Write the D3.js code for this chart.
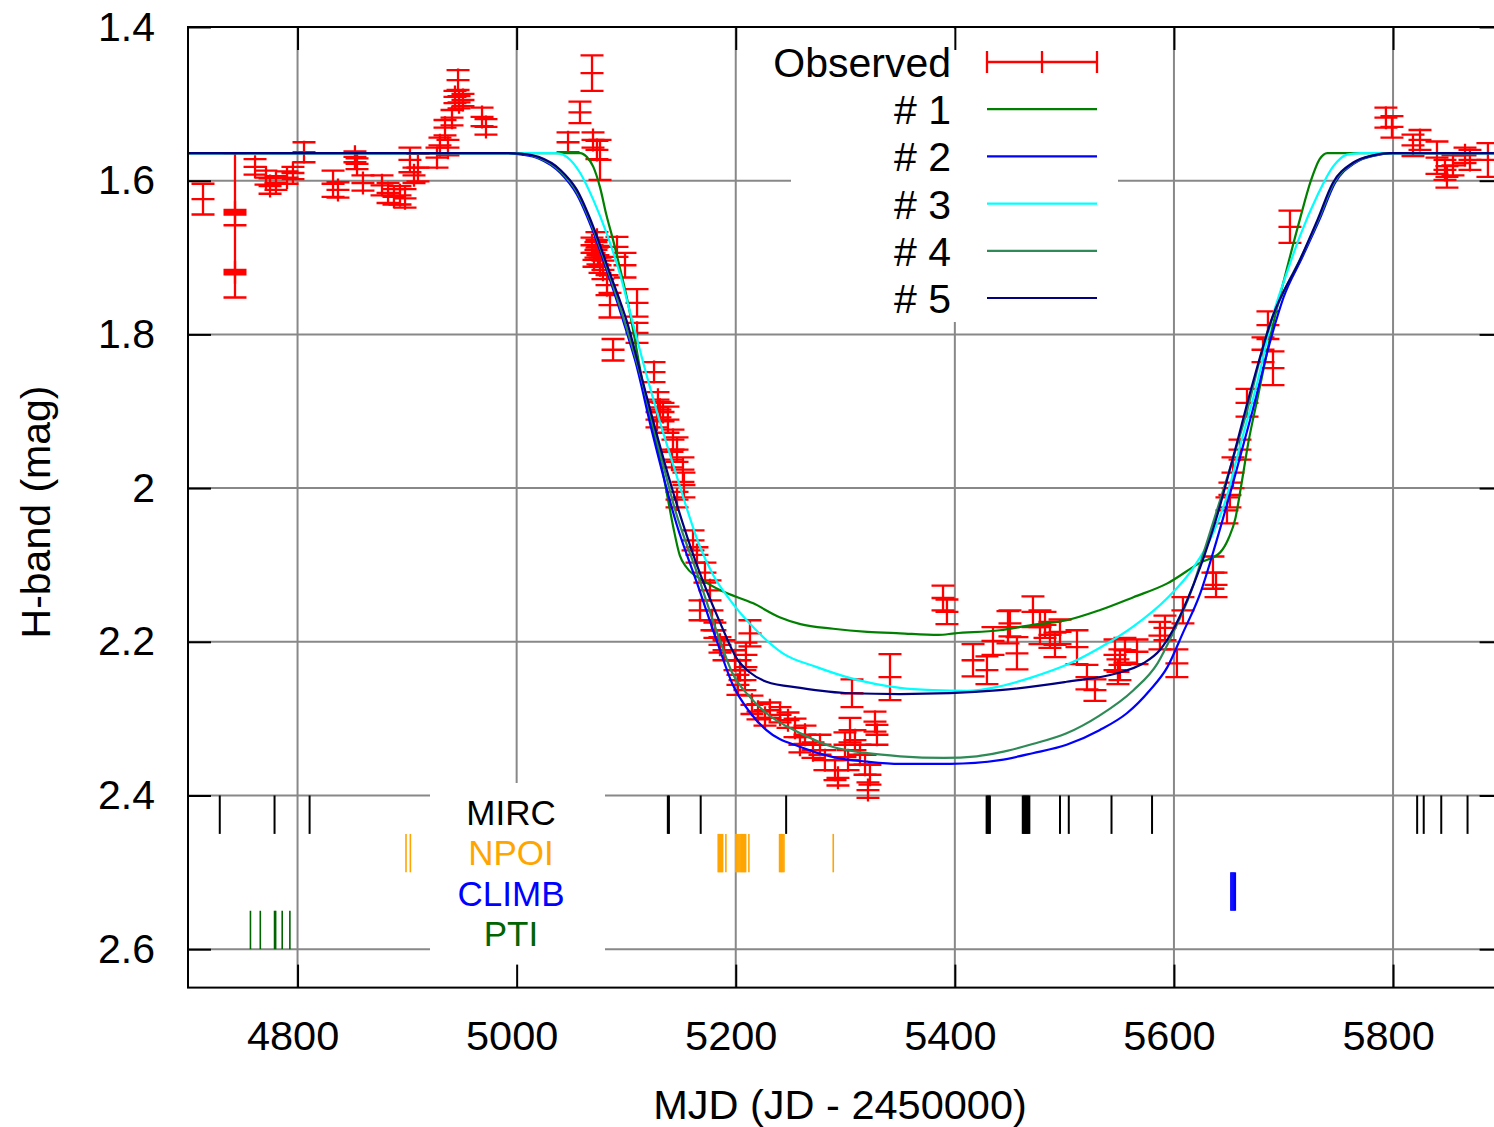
<!DOCTYPE html>
<html><head><meta charset="utf-8">
<script src="https://cdn.jsdelivr.net/npm/d3@7"></script>
<style>
body{margin:0;background:#fff}
svg text{font-family:"Liberation Sans",Arial,Helvetica,sans-serif}
</style>
</head><body>
<svg id="chart" width="1494" height="1127"></svg>
<script>
// ---------- data ----------
const xTicks = [4800, 5000, 5200, 5400, 5600, 5800];
const yTicks = [1.4, 1.6, 1.8, 2.0, 2.2, 2.4, 2.6];

const obsMJD = [4713.7,4742.9,4742.9,4742.9,4761.2,4771.2,4774.9,4780.3,4790.4,4795.8,4805.9,4832.4,4836.9,4852.4,4854.3,4859.7,4877.1,4882.6,4888.0,4893.5,4898.1,4902.6,4909.9,4906.3,4927.3,4934.6,4930.0,4937.3,4941.0,4943.7,4947.4,4951.0,4946.5,4968.4,4972.0,
5068.8,5057.8,5046.9,5069.7,5073.3,5076.1,5068.8,5072.4,5070.6,5074.2,5076.1,5078.8,5073.3,5091.6,5098.9,5082.5,5085.2,5109.9,5088.0,5109.9,5125.4,5129.0,5130.8,5128.1,5133.6,5138.1,5142.7,5146.4,5141.8,5151.8,5152.7,5146.4,5161.0,5164.6,5171.9,5176.5,5167.4,5178.3,5181.0,5185.6,5213.0,5209.3,5189.3,5199.3,5203.9,5208.4,5202.0,5214.8,5220.3,5226.7,5231.2,5240.4,5247.7,5254.1,5263.2,5258.6,5270.5,5276.9,5281.4,5290.6,5293.3,5299.7,5304.3,5308.8,5313.4,5318.0,5322.5,5302.5,5306.1,5327.1,5328.9,5340.8,5320.7,
5389.2,5392.8,5416.6,5429.3,5434.8,5448.5,5456.7,5471.3,5477.7,5450.3,5482.3,5486.8,5491.4,5496.0,5511.5,5520.6,5527.9,5546.2,5550.7,5555.3,5548.9,5566.3,5587.2,5608.2,5602.7,5591.8,5635.6,5638.4,5648.4,5653.9,5660.3,5666.7,5681.3,5690.4,5685.8,5705.9,5651.1,
5799.0,5793.5,5818.2,5824.6,5840.1,5849.2,5854.7,5847.4,5870.2,5865.7,5886.6];
const obsMag = [1.624,1.658,1.641,1.719,1.582,1.596,1.607,1.603,1.596,1.590,1.563,1.604,1.612,1.569,1.578,1.603,1.606,1.616,1.621,1.619,1.623,1.573,1.583,1.593,1.570,1.531,1.554,1.557,1.518,1.491,1.498,1.495,1.469,1.517,1.530,
1.460,1.511,1.550,1.547,1.560,1.573,1.684,1.690,1.703,1.697,1.710,1.716,1.677,1.686,1.710,1.736,1.762,1.759,1.820,1.798,1.849,1.885,1.898,1.911,1.901,1.911,1.937,1.950,1.963,1.976,1.996,2.015,2.068,2.087,2.110,2.133,2.159,2.172,2.185,2.204,2.189,2.217,2.211,2.224,2.237,2.250,2.256,2.282,2.291,2.299,2.289,2.295,2.302,2.312,2.321,2.334,2.341,2.334,2.354,2.367,2.377,2.334,2.315,2.328,2.347,2.360,2.373,2.354,2.267,2.304,2.321,2.246,2.393,
2.143,2.161,2.224,2.237,2.199,2.181,2.215,2.161,2.181,2.176,2.178,2.191,2.204,2.187,2.207,2.246,2.263,2.217,2.230,2.211,2.239,2.213,2.192,2.159,2.228,2.182,2.110,2.126,2.029,1.980,1.950,1.889,1.820,1.844,1.788,1.660,2.009,
1.530,1.518,1.554,1.547,1.570,1.595,1.580,1.586,1.573,1.567,1.573];
const obsErr = [0.020,0.094,0.003,0.003,0.010,0.009,0.010,0.009,0.008,0.008,0.013,0.017,0.010,0.007,0.007,0.010,0.013,0.013,0.010,0.012,0.012,0.016,0.018,0.010,0.013,0.010,0.010,0.010,0.010,0.008,0.008,0.008,0.013,0.012,0.010,
0.023,0.014,0.013,0.010,0.012,0.026,0.010,0.010,0.009,0.012,0.010,0.012,0.010,0.013,0.016,0.013,0.016,0.018,0.014,0.013,0.013,0.010,0.010,0.010,0.012,0.017,0.013,0.016,0.010,0.016,0.016,0.010,0.013,0.010,0.013,0.013,0.013,0.013,0.010,0.010,0.017,0.016,0.013,0.013,0.013,0.013,0.013,0.012,0.010,0.010,0.010,0.010,0.010,0.012,0.012,0.010,0.010,0.013,0.013,0.013,0.010,0.016,0.016,0.013,0.013,0.013,0.013,0.013,0.018,0.013,0.013,0.030,0.010,
0.016,0.016,0.021,0.018,0.018,0.021,0.021,0.020,0.022,0.017,0.017,0.017,0.016,0.016,0.022,0.016,0.014,0.020,0.020,0.016,0.016,0.016,0.018,0.017,0.018,0.016,0.021,0.016,0.017,0.020,0.013,0.018,0.016,0.022,0.018,0.021,0.016,
0.014,0.013,0.014,0.013,0.021,0.014,0.013,0.013,0.013,0.010,0.022];

// model light curves [MJD, H mag]
const model1 = [[4700,1.564],[5058,1.564],[5064,1.569],[5070,1.582],[5076,1.608],[5082,1.645],[5088,1.677],[5094,1.712],[5101,1.755],[5106,1.792],[5114,1.855],[5124,1.920],[5133,1.976],[5137,2.006],[5143,2.051],[5149,2.088],[5155,2.103],[5170,2.120],[5186,2.133],[5216,2.150],[5240,2.168],[5259,2.177],[5289,2.183],[5320,2.187],[5350,2.189],[5385,2.191],[5400,2.189],[5441,2.185],[5471,2.178],[5502,2.172],[5532,2.159],[5563,2.142],[5594,2.124],[5624,2.097],[5642,2.084],[5650,2.065],[5656,2.040],[5661,2.000],[5668,1.940],[5676,1.885],[5690,1.790],[5703,1.715],[5715,1.650],[5725,1.600],[5733,1.572],[5740,1.564],[5900,1.564]];
const model2 = [[4700,1.564],[4990,1.564],[5005,1.566],[5020,1.571],[5040,1.590],[5055,1.618],[5070,1.667],[5085,1.728],[5100,1.795],[5108,1.833],[5124,1.929],[5146,2.047],[5165,2.125],[5183,2.200],[5197,2.255],[5213,2.292],[5228,2.315],[5259,2.337],[5289,2.350],[5320,2.356],[5350,2.359],[5396,2.359],[5441,2.354],[5471,2.345],[5502,2.334],[5532,2.315],[5557,2.293],[5578,2.263],[5594,2.233],[5608,2.189],[5624,2.137],[5639,2.068],[5654,1.993],[5672,1.898],[5690,1.798],[5700,1.752],[5717,1.700],[5733,1.650],[5747,1.603],[5765,1.577],[5784,1.567],[5800,1.564],[5900,1.564]];
const model3 = [[4700,1.564],[5035,1.564],[5042,1.566],[5049,1.573],[5058,1.590],[5070,1.625],[5082,1.668],[5094,1.720],[5106,1.785],[5119,1.855],[5131,1.915],[5143,1.970],[5155,2.025],[5167,2.075],[5179,2.112],[5195,2.146],[5216,2.181],[5243,2.215],[5274,2.233],[5304,2.247],[5350,2.260],[5380,2.263],[5411,2.264],[5441,2.258],[5471,2.246],[5502,2.230],[5532,2.208],[5563,2.180],[5594,2.143],[5617,2.105],[5636,2.058],[5648,2.012],[5660,1.947],[5676,1.863],[5690,1.777],[5703,1.720],[5715,1.672],[5731,1.619],[5745,1.582],[5758,1.566],[5770,1.564],[5900,1.564]];
const model4 = [[4700,1.564],[4990,1.564],[5005,1.565],[5020,1.570],[5040,1.588],[5055,1.615],[5070,1.663],[5085,1.724],[5100,1.790],[5114,1.858],[5126,1.925],[5145,2.030],[5165,2.112],[5183,2.188],[5197,2.241],[5213,2.272],[5228,2.293],[5259,2.319],[5289,2.337],[5320,2.345],[5350,2.349],[5390,2.351],[5420,2.349],[5441,2.344],[5471,2.333],[5502,2.319],[5532,2.296],[5563,2.263],[5585,2.228],[5599,2.189],[5615,2.137],[5630,2.071],[5648,1.989],[5667,1.898],[5685,1.798],[5700,1.745],[5716,1.700],[5732,1.650],[5746,1.603],[5764,1.577],[5783,1.567],[5800,1.564],[5900,1.564]];
const model5 = [[4700,1.564],[4990,1.564],[5005,1.565],[5020,1.569],[5040,1.586],[5055,1.612],[5070,1.660],[5085,1.720],[5101,1.785],[5114,1.855],[5126,1.920],[5143,2.006],[5163,2.094],[5186,2.176],[5201,2.222],[5213,2.240],[5228,2.252],[5259,2.260],[5304,2.267],[5350,2.268],[5441,2.263],[5502,2.252],[5548,2.241],[5572,2.228],[5587,2.211],[5599,2.185],[5612,2.146],[5624,2.103],[5639,2.038],[5654,1.960],[5672,1.863],[5690,1.777],[5715,1.703],[5731,1.651],[5745,1.603],[5763,1.577],[5782,1.567],[5797,1.564],[5900,1.564]];

const seriesNames = ["# 1", "# 2", "# 3", "# 4", "# 5"];
const seriesColors = ["#008000", "#0000ff", "#00ffff", "#2e8b57", "#000080"];

// observation epochs of each instrument (MJD)
const mircDates = [4729,4779,4811,5138,5139,5168,5246,5429,5430,5431,5432,5462,5463,5464,5465,5466,5467,5468,5496,5504,5543,5580,5822,5828,5844,5868];
const npoiDates = [4899,4903,5184,5185,5186,5187,5188,5191,5200,5201,5202,5203,5204,5205,5206,5207,5208,5209,5212,5240,5241,5242,5243,5244,5289];
const climbDates = [5652,5653,5654,5655,5656];
const ptiDates = [4757,4766,4779,4780,4786,4793];
const instruments = [
  {name:"MIRC",  color:"#000000", dates:mircDates,  band:[2.40,2.45]},
  {name:"NPOI",  color:"#ffa500", dates:npoiDates,  band:[2.45,2.50]},
  {name:"CLIMB", color:"#0000ff", dates:climbDates, band:[2.50,2.55]},
  {name:"PTI",   color:"#006400", dates:ptiDates,   band:[2.55,2.60]}
];

// ---------- drawing ----------
const svg = d3.select("#chart");
const x = d3.scaleLinear().domain([4700, 5900]).range([188, 1502.6]);
const y = d3.scaleLinear().domain([1.4, 2.65]).range([27, 987.6]);
const FS = 41;
const GRID = "#888888";

// grid
svg.append("g").selectAll("line").data(xTicks).join("line")
  .attr("x1", d => x(d)).attr("x2", d => x(d))
  .attr("y1", y(1.4)).attr("y2", y(2.65))
  .attr("stroke", GRID).attr("stroke-width", 2);
svg.append("g").selectAll("line").data(yTicks.slice(1)).join("line")
  .attr("y1", d => y(d)).attr("y2", d => y(d))
  .attr("x1", x(4700)).attr("x2", x(5900))
  .attr("stroke", GRID).attr("stroke-width", 2);

// white key boxes
svg.append("rect").attr("x", 791).attr("y", 29).attr("width", 327).attr("height", 293).attr("fill", "#fff");
svg.append("rect").attr("x", 430).attr("y", 783).attr("width", 175).attr("height", 204).attr("fill", "#fff");

// instrument epochs
instruments.forEach(ins => {
  svg.append("g").selectAll("line").data(ins.dates).join("line")
    .attr("x1", d => x(d)).attr("x2", d => x(d))
    .attr("y1", y(ins.band[0])).attr("y2", y(ins.band[1]))
    .attr("stroke", ins.color).attr("stroke-width", ins.name === "MIRC" ? 2 : 1.6);
});

// observed points with error bars
const obs = obsMJD.map((m, i) => ({x: m, y: obsMag[i], e: obsErr[i]}));
const gObs = svg.append("g").attr("stroke", "#ff0000").attr("stroke-width", 2.3).attr("fill", "none");
const CAP = 11.5, MK = 11.5;
obs.forEach(p => {
  const cx = x(p.x), cy = y(p.y), y1 = y(p.y - p.e), y2 = y(p.y + p.e);
  gObs.append("path").attr("d",
    `M${cx},${y1}V${y2}` +
    `M${cx-CAP},${y1}H${cx+CAP}` +
    `M${cx-CAP},${y2}H${cx+CAP}` +
    `M${cx-MK},${cy}H${cx+MK}` +
    `M${cx},${cy-MK}V${cy+MK}`);
});

// model curves
const line = d3.line().x(d => x(d[0])).y(d => y(d[1])).curve(d3.curveMonotoneX);
[model1, model2, model3, model4, model5].forEach((m, i) => {
  svg.append("path").datum(m).attr("d", line)
    .attr("fill", "none").attr("stroke", seriesColors[i]).attr("stroke-width", 2.2);
});

// border
svg.append("rect").attr("x", x(4700)).attr("y", y(1.4))
  .attr("width", x(5900) - x(4700)).attr("height", y(2.65) - y(1.4))
  .attr("fill", "none").attr("stroke", "#000").attr("stroke-width", 2);

// axes
function styleAxis(g) {
  g.select(".domain").remove();
  g.selectAll(".tick line").attr("stroke", "#000").attr("stroke-width", 2);
  g.selectAll(".tick text").attr("fill", "#000")
    .attr("font-family", '"Liberation Sans",Arial,sans-serif').attr("font-size", FS);
}
svg.append("g").attr("transform", `translate(0,${y(2.65)})`)
  .call(d3.axisBottom(x).tickValues(xTicks).tickSizeInner(-23).tickSizeOuter(0).tickPadding(33).tickFormat(d3.format("d")))
  .call(styleAxis)
  .call(g => g.selectAll(".tick text").attr("x", -5).attr("font-size", 41.5));
svg.append("g").attr("transform", `translate(0,${y(1.4)})`)
  .call(d3.axisTop(x).tickValues(xTicks).tickSizeInner(-23).tickSizeOuter(0).tickFormat(() => ""))
  .call(styleAxis);
svg.append("g").attr("transform", `translate(${x(4700)},0)`)
  .call(d3.axisLeft(y).tickValues(yTicks).tickSizeInner(-23).tickSizeOuter(0).tickPadding(33).tickFormat(d3.format("")))
  .call(styleAxis);
svg.append("g").attr("transform", `translate(${x(5900)},0)`)
  .call(d3.axisRight(y).tickValues(yTicks).tickSizeInner(-23).tickSizeOuter(0).tickFormat(() => ""))
  .call(styleAxis);

// axis titles
svg.append("text").attr("x", 840).attr("y", 1119).attr("text-anchor", "middle")
  .attr("font-size", 41.5).attr("fill", "#000").text("MJD (JD - 2450000)");
svg.append("text").attr("transform", "translate(50,512) rotate(-90)").attr("text-anchor", "middle")
  .attr("font-size", FS).attr("fill", "#000").text("H-band (mag)");

// instrument labels (slightly smaller so the stacked labels do not collide)
const LFS = 35;
instruments.forEach((ins, i) => {
  svg.append("text").attr("x", 511).attr("y", 812 + i * 40.5 + LFS * 0.36)
    .attr("text-anchor", "middle").attr("font-size", LFS).attr("fill", ins.color).text(ins.name);
});

// legend
const legendRows = ["Observed"].concat(seriesNames);
const rowY = i => 62 + i * 47.2;
legendRows.forEach((t, i) => {
  svg.append("text").attr("x", 951).attr("y", rowY(i) + 15).attr("text-anchor", "end")
    .attr("font-size", FS).attr("fill", "#000").text(t);
});
svg.append("path").attr("d",
  `M987,${rowY(0)}H1097M987,${rowY(0)-11}V${rowY(0)+11}M1097,${rowY(0)-11}V${rowY(0)+11}M1042,${rowY(0)-11}V${rowY(0)+11}`)
  .attr("stroke", "#ff0000").attr("stroke-width", 2.3).attr("fill", "none");
seriesColors.forEach((c, i) => {
  svg.append("line").attr("x1", 987).attr("x2", 1097).attr("y1", rowY(i + 1)).attr("y2", rowY(i + 1))
    .attr("stroke", c).attr("stroke-width", 2.2);
});
</script>
</body></html>
